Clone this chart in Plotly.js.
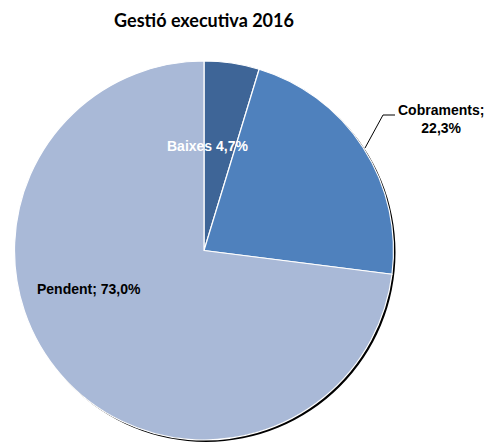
<!DOCTYPE html>
<html><head><meta charset="utf-8">
<script src="https://cdn.plot.ly/plotly-3.0.1.min.js"></script>
<style>html,body{margin:0;padding:0;background:#fff}#chart{width:486px;height:442px}</style>
</head><body><div id="chart"></div>
<script>
const categories = ["Baixes", "Cobraments", "Pendent"];
const values = [4.7, 22.3, 73.0];
const colors = ["#3E6597", "#4F81BD", "#A9B9D7"];
const titleText = "Gestió executiva 2016";

const W = 486, H = 442;
const px = (x) => x / W;
const py = (y) => 1 - y / H;
const fmt = (v) => v.toFixed(1).replace('.', ',') + '%';

const shadow = {
  type: 'pie', values: [1], labels: ['s'], sort: false,
  marker: {colors: ['#000000'], line: {width: 0}},
  textinfo: 'none', hoverinfo: 'skip', showlegend: false,
  domain: {x: [px(15), px(397)], y: [py(442), py(63)]}
};
const pie = {
  type: 'pie', values: values, labels: categories, sort: false,
  direction: 'clockwise', rotation: 0,
  marker: {colors: colors, line: {color: '#ffffff', width: 1.2}},
  textinfo: 'none', showlegend: false,
  domain: {x: [px(13), px(395)], y: [py(440), py(61)]}
};

const lf = {family: 'Liberation Sans, Arial, sans-serif', size: 14, color: '#000'};
const layout = {
  width: W, height: H,
  margin: {l: 0, r: 0, t: 0, b: 0},
  paper_bgcolor: '#fff',
  title: {text: '<b>' + titleText + '</b>', x: px(204), xanchor: 'center', y: py(21), yanchor: 'middle',
          font: {family: 'Lato, Open Sans, sans-serif', size: 18, color: '#000'}},
  annotations: [
    {text: '<b>' + categories[0] + ' ' + fmt(values[0]) + '</b>', x: px(207), y: py(146), xref: 'paper', yref: 'paper',
     xanchor: 'center', yanchor: 'middle', showarrow: false, font: Object.assign({}, lf, {color: '#ffffff'})},
    {text: '<b>' + categories[1] + ';<br>' + fmt(values[1]) + '</b>', x: px(441), y: py(119), xref: 'paper', yref: 'paper',
     xanchor: 'center', yanchor: 'middle', showarrow: false, font: lf, align: 'center'},
    {text: '<b>' + categories[2] + '; ' + fmt(values[2]) + '</b>', x: px(89), y: py(289), xref: 'paper', yref: 'paper',
     xanchor: 'center', yanchor: 'middle', showarrow: false, font: lf}
  ],
  shapes: [
    {type: 'path', xref: 'paper', yref: 'paper',
     path: 'M ' + px(395) + ' ' + py(115) + ' L ' + px(383) + ' ' + py(115) + ' L ' + px(365) + ' ' + py(148),
     line: {color: '#000', width: 1}}
  ]
};
Plotly.newPlot('chart', [shadow, pie], layout, {displayModeBar: false, staticPlot: true});
</script></body></html>
